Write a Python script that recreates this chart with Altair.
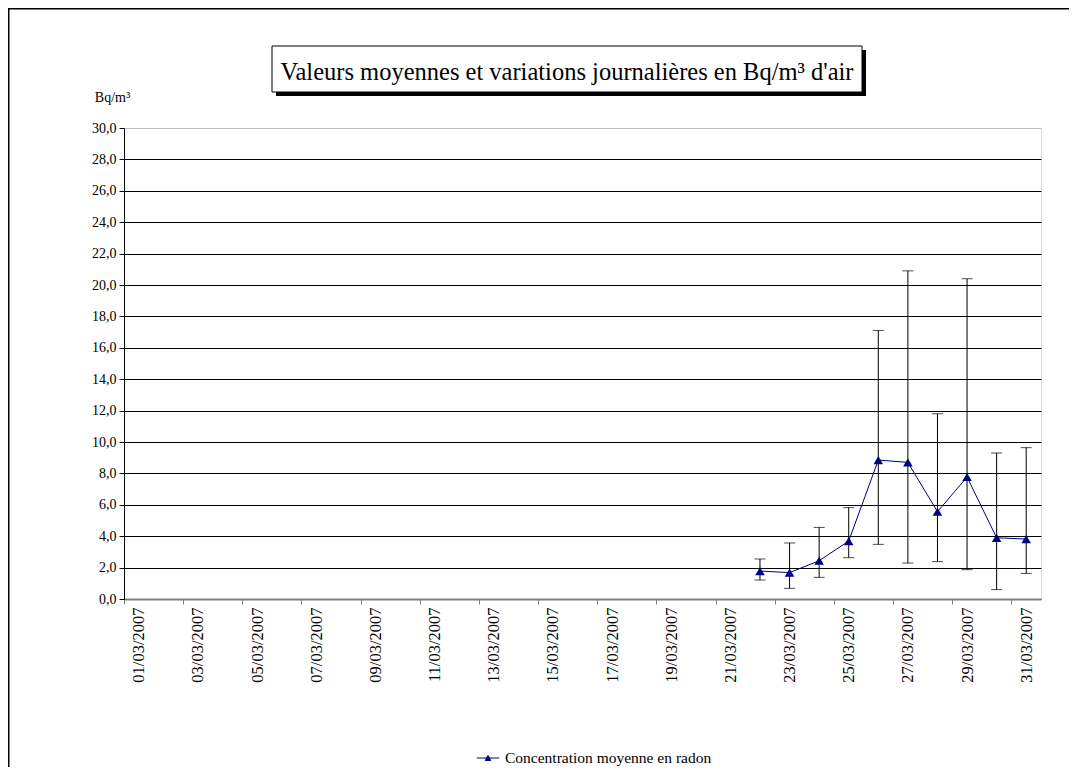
import altair as alt
import pandas as pd

# ---- data ----
days = [22, 23, 24, 25, 26, 27, 28, 29, 30, 31]
mean = [1.78, 1.68, 2.44, 3.69, 8.85, 8.70, 5.56, 7.77, 3.90, 3.82]
low = [1.21, 0.68, 1.38, 2.63, 3.48, 2.29, 2.38, 1.87, 0.60, 1.63]
high = [2.55, 3.57, 4.56, 5.82, 17.1, 20.9, 11.8, 20.4, 9.30, 9.64]
tick_labels = ["01/03/2007", "03/03/2007", "05/03/2007", "07/03/2007",
               "09/03/2007", "11/03/2007", "13/03/2007", "15/03/2007",
               "17/03/2007", "19/03/2007", "21/03/2007", "23/03/2007",
               "25/03/2007", "27/03/2007", "29/03/2007", "31/03/2007"]
y_ticks = [0.0, 2.0, 4.0, 6.0, 8.0, 10.0, 12.0, 14.0, 16.0, 18.0, 20.0,
           22.0, 24.0, 26.0, 28.0, 30.0]
series_name = "Concentration moyenne en radon"
title_text = "Valeurs moyennes et variations journalières en Bq/m³ d'air"
y_unit = "Bq/m³"

df = pd.DataFrame({"day": days, "mean": mean, "low": low, "high": high,
                   "serie": [series_name] * len(days)})

W, H = 917, 471
FONT = "Liberation Serif"
NAVY = "#000080"

tick_vals = [i + 0.5 for i in range(0, 31, 2)]
label_arr = "[" + ",".join("'" + t + "'" for t in tick_labels) + "]"

xscale = alt.Scale(domain=[0.5, 31.5], nice=False, zero=False)
yscale = alt.Scale(domain=[0, 30], nice=False, zero=True)

xaxis = alt.Axis(values=tick_vals, labelExpr=label_arr + "[floor(datum.value/2)]",
                 labelAngle=-90, labelAlign="right", labelBaseline="middle",
                 labelOffset=W / 31 / 2, labelPadding=3, labelFont=FONT,
                 labelFontSize=16.5, labelColor="black", tickColor="#808080",
                 tickSize=5, domainColor="#808080", domainWidth=2, grid=False,
                 title=None, labelOverlap=False, labelBound=False, labelFlush=False)
yaxis = alt.Axis(values=y_ticks,
                 labelExpr="replace(format(datum.value, '.1f'), '.', ',')",
                 labelFont=FONT, labelFontSize=14, labelColor="black",
                 tickColor="black", tickSize=5, domainColor="black",
                 gridColor={"condition": {"test": "datum.value >= 30", "value": "#c0c0c0"},
                            "value": "black"},
                 gridWidth=1, grid=True, labelPadding=3,
                 labelOverlap=False, labelFlush=False, labelBound=False,
                 title=y_unit, titleAngle=0, titleFont=FONT, titleFontSize=14,
                 titleFontWeight="normal", titleX=-12, titleY=-24,
                 titleAlign="center", titleBaseline="bottom", titleColor="black")


def X():
    return alt.X("day:Q", scale=xscale, axis=xaxis)


def Y(field):
    return alt.Y(field, type="quantitative", scale=yscale, axis=yaxis)


base = alt.Chart(df)

rules = base.mark_rule(color="black", strokeWidth=1).encode(
    x=X(), y=Y("low"), y2="high:Q")
cap_hi = base.mark_tick(color="black", orient="horizontal", size=11, thickness=1).encode(
    x=X(), y=Y("high"))
cap_lo = base.mark_tick(color="black", orient="horizontal", size=11, thickness=1).encode(
    x=X(), y=Y("low"))
line = base.mark_line(color=NAVY, strokeWidth=1).encode(x=X(), y=Y("mean"))
pts = base.mark_point(shape="triangle-up", filled=True, size=90, opacity=1).encode(
    x=X(), y=Y("mean"),
    color=alt.Color("serie:N", scale=alt.Scale(range=[NAVY]),
                    legend=alt.Legend(orient="none", legendX=352, legendY=618,
                                      title=None, labelFont=FONT, labelFontSize=15.5,
                                      labelColor="black", labelLimit=0,
                                      symbolSize=500,
                                      symbolType="M-1,0H1M0,-0.24L0.24,0.22L-0.24,0.22Z",
                                      symbolStrokeColor=NAVY, symbolFillColor=NAVY,
                                      symbolStrokeWidth=1, labelOffset=5)))

# decorations: title box with shadow, and outer frame
one = alt.Chart(pd.DataFrame({"t": [title_text]}))
frame = one.mark_rect(fill=None, stroke="black", strokeWidth=1.5).encode(
    x=alt.value(-115.25), x2=alt.value(1000), y=alt.value(-119.25), y2=alt.value(700))
shadow = one.mark_rect(color="black").encode(
    x=alt.value(152), x2=alt.value(742), y=alt.value(-78), y2=alt.value(-32))
box = one.mark_rect(fill="white", stroke="black", strokeWidth=1).encode(
    x=alt.value(148), x2=alt.value(738), y=alt.value(-82), y2=alt.value(-36))
title = one.mark_text(font=FONT, fontSize=24.5, color="black", align="center",
                      baseline="alphabetic").encode(
    text="t:N", x=alt.value(443), y=alt.value(-48))

chart = alt.layer(frame, rules, cap_hi, cap_lo, line, pts,
                  shadow, box, title).properties(
    width=W, height=H,
    autosize=alt.AutoSizeParams(type="none"),
    padding={"left": 116, "top": 120, "right": 28, "bottom": 168},
).configure_view(stroke="#c0c0c0", strokeWidth=1.5).configure(background="white")

chart.save("out.html", embed_options={"renderer": "svg", "actions": False})
